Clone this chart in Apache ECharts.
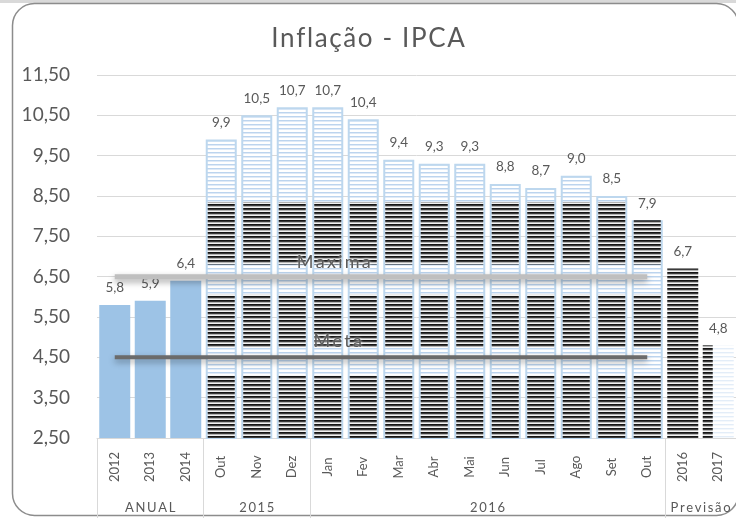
<!DOCTYPE html>
<html>
<head>
<meta charset="utf-8">
<script src="https://cdn.jsdelivr.net/npm/echarts@6/dist/echarts.min.js"></script>
<style>
  html, body { margin: 0; padding: 0; background: #fff; }
  #chart { width: 736px; height: 518px; }
</style>
</head>
<body>
<div id="chart"></div>
<script>
// dados
const categories = ['2012', '2013', '2014', 'Out', 'Nov', 'Dez', 'Jan', 'Fev', 'Mar', 'Abr', 'Mai', 'Jun', 'Jul', 'Ago', 'Set', 'Out', '2016', '2017']
const anual = [5.8, 5.9, 6.4]
const mensal = [9.9, 10.5, 10.7, 10.7, 10.4, 9.4, 9.3, 9.3, 8.8, 8.7, 9.0, 8.5, 7.9]
const previsao = [6.7, 4.8]
const maxima = 6.5
const meta = 4.5
const groups = ['ANUAL', '2015', '2016', 'Previsão']
const groupSizes = [3, 3, 10, 2]
// faixas pretas que aparecem dentro das barras mensais
const faixasPretas = [[2.5, 4.05], [4.75, 6.05], [6.8, 8.35]]

const GREY = '#595959'
const FONT = 'Lato'

function stripe(rows) {
  const c = document.createElement('canvas')
  c.width = 4
  c.height = rows.length
  const ctx = c.getContext('2d')
  rows.forEach((col, k) => {
    ctx.fillStyle = col
    ctx.fillRect(0, k, 4, 1)
  })
  return { image: c, repeat: 'repeat' }
}
const pretoPadrao = stripe(['#151515', '#3a3a3a', '#b4b4b4', '#f2f2f2'])
const azulPadrao = stripe(['#bcd4ee', '#dfeaf7', '#ffffff', '#ffffff'])
const azulFraco = stripe(['#e3edf8', '#f4f8fc', '#ffffff', '#ffffff'])

const spaced = (s, sp) => s.split('').join(sp || '\u2009')
const fmt1 = v => v.toFixed(1).replace('.', ',')

const nA = anual.length
const nM = mensal.length
const anualData = categories.map((c, i) => i < nA ? anual[i] : '-')
const mensalData = categories.map((c, i) => (i >= nA && i < nA + nM) ? mensal[i - nA] : '-')
const previsaoData = categories.map((c, i) => {
  const k = i - nA - nM
  if (k < 0) return '-'
  if (k === previsao.length - 1) return { value: previsao[k], itemStyle: { color: azulFraco } }
  return previsao[k]
})
const lastLine = nA + nM - 1
const maximaData = categories.map((c, i) => i <= lastLine ? maxima : '-')
const metaData = categories.map((c, i) => i <= lastLine ? meta : '-')

const faixasData = []
mensal.forEach((v, k) => {
  faixasPretas.forEach(f => {
    faixasData.push([nA + k, f[0], Math.min(f[1], v)])
  })
})
const ultimaPrev = nA + nM + previsao.length - 1
const previsaoPreta = [[ultimaPrev, 2.5, previsao[previsao.length - 1]]]

function bandRenderer(w, dx) {
  return function(params, api) {
    const top = api.coord([api.value(0), api.value(2)])
    const bot = api.coord([api.value(0), api.value(1)])
    return {
      type: 'rect',
      shape: { x: top[0] - w / 2 + dx, y: top[1], width: w, height: bot[1] - top[1] },
      style: { fill: pretoPadrao }
    }
  }
}

function lineLabel(text, value, distance, dx) {
  return {
    symbol: 'circle',
    symbolSize: 0,
    data: [{ coord: [6, value], value: value }],
    label: {
      show: true, formatter: spaced(text), position: 'top', distance: distance, offset: [dx, 0],
      fontSize: 18, color: '#5a5a5a', fontFamily: FONT,
      textShadowColor: 'rgba(255,255,255,0.9)', textShadowBlur: 3
    },
    itemStyle: { color: 'transparent' }
  }
}

// limites e centros dos grupos do eixo inferior
const bounds = [0]
groupSizes.forEach(s => bounds.push(bounds[bounds.length - 1] + s))
const centers = groupSizes.map((s, i) => bounds[i] + s / 2)

const chart = echarts.init(document.getElementById('chart'))
chart.setOption({
  animation: false,
  textStyle: { fontFamily: FONT },
  title: {
    text: spaced('Inflação - IPCA', '\u200A'),
    left: 'center',
    top: 21,
    textStyle: { fontSize: 26, fontWeight: 'normal', color: GREY, fontFamily: FONT }
  },
  graphic: [
    { type: 'rect', silent: true, shape: { x: 0, y: 0, width: 736, height: 3 }, style: { fill: '#d9d9d9' } },
    { type: 'rect', silent: true, shape: { x: 12.5, y: 3.5, width: 726, height: 512, r: 22 }, style: { fill: 'none', stroke: '#8c8c8c', lineWidth: 1.5 } }
  ],
  grid: { left: 97, top: 75, width: 643, bottom: 80 },
  xAxis: [{
    type: 'category',
    data: categories,
    axisLine: { lineStyle: { color: '#d9d9d9' } },
    axisTick: { length: 47, interval: 0, lineStyle: { color: '#d9d9d9' } },
    axisLabel: {
      interval: 0, rotate: 90, margin: 29, align: 'center', verticalAlign: 'middle',
      fontSize: 13, color: GREY, fontFamily: FONT
    }
  }, {
    type: 'value',
    position: 'bottom',
    offset: 80,
    min: 0,
    max: bounds[bounds.length - 1],
    axisLine: { show: false },
    splitLine: { show: false },
    axisTick: { show: true, inside: true, length: 80, customValues: bounds, lineStyle: { color: '#d9d9d9' } },
    axisLabel: {
      inside: true, margin: 4, customValues: centers,
      formatter: v => { const k = centers.indexOf(v); return k >= 0 ? spaced(groups[k]) : '' },
      fontSize: 13, color: GREY, fontFamily: FONT
    }
  }],
  yAxis: {
    type: 'value',
    min: 2.5,
    max: 11.5,
    interval: 1,
    axisLine: { show: false },
    axisTick: { show: false },
    splitLine: { lineStyle: { color: '#d9d9d9' } },
    axisLabel: { margin: 27, fontSize: 19, color: GREY, fontFamily: FONT, formatter: v => v.toFixed(2).replace('.', ',') }
  },
  series: [
    {
      name: 'Anual', type: 'bar', data: anualData, barWidth: 31, barGap: '-100%', z: 2,
      itemStyle: { color: '#9dc3e6' },
      label: { show: true, position: 'top', distance: 10, fontSize: 13.5, color: GREY, formatter: p => fmt1(p.value) }
    },
    {
      name: 'Mensal', type: 'bar', data: mensalData, barWidth: 31, barGap: '-100%', z: 2,
      itemStyle: { color: azulPadrao, borderColor: '#bdd7ee', borderWidth: 2 },
      label: { show: true, position: 'top', distance: 10, fontSize: 13.5, color: GREY, formatter: p => fmt1(p.value) }
    },
    {
      name: 'Previsão', type: 'bar', data: previsaoData, barWidth: 31, barGap: '-100%', z: 2,
      itemStyle: { color: pretoPadrao },
      label: { show: true, position: 'top', distance: 10, fontSize: 13.5, color: GREY, formatter: p => fmt1(p.value) }
    },
    { name: 'faixas', type: 'custom', data: faixasData, z: 3, renderItem: bandRenderer(27, 0), encode: { x: 0, y: [1, 2] } },
    { name: 'previsaoPreta', type: 'custom', data: previsaoPreta, z: 3, renderItem: bandRenderer(10, -10.5), encode: { x: 0, y: [1, 2] } },
    {
      name: 'Máxima', type: 'line', data: maximaData, symbol: 'none', z: 5,
      lineStyle: { color: '#bfbfbf', width: 5, shadowColor: 'rgba(0,0,0,0.35)', shadowBlur: 6, shadowOffsetY: 3 },
      markPoint: lineLabel('Maxima', maxima, 5, 6)
    },
    {
      name: 'Meta', type: 'line', data: metaData, symbol: 'none', z: 5,
      lineStyle: { color: '#6b6b6b', width: 4, shadowColor: 'rgba(0,0,0,0.35)', shadowBlur: 6, shadowOffsetY: 3 },
      markPoint: lineLabel('Meta', meta, 7, 10)
    }
  ]
})
</script>
</body>
</html>
